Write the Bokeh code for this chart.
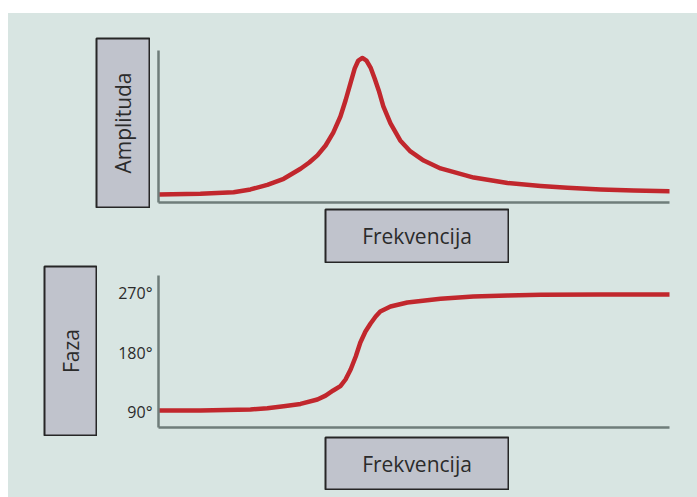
import math
from bokeh.plotting import figure
from bokeh.layouts import column, row
from bokeh.models import Range1d, FixedTicker, Spacer
from bokeh.core.properties import value
from bokeh.embed import file_html
from bokeh.resources import INLINE

# ---------------- data ----------------
freq_amp = [0.00, 0.82, 1.47, 1.80, 2.13, 2.45, 2.78, 2.95, 3.11, 3.27, 3.42, 3.56, 3.66,
            3.76, 3.84, 3.91, 3.99, 4.07, 4.15, 4.23, 4.31, 4.40, 4.54, 4.73, 4.93,
            5.19, 5.52, 6.17, 6.83, 7.48, 8.00, 8.65, 9.30, 10.0]
amplitude = [0.053, 0.057, 0.068, 0.086, 0.116, 0.156, 0.222, 0.263, 0.310, 0.375, 0.460, 0.566, 0.671,
             0.789, 0.882, 0.934, 0.951, 0.934, 0.888, 0.816, 0.737, 0.632, 0.520, 0.408, 0.336,
             0.276, 0.224, 0.164, 0.128, 0.109, 0.097, 0.086, 0.079, 0.074]

freq_phase = [0.00, 0.82, 1.80, 2.13, 2.45, 2.78, 3.11, 3.27, 3.42, 3.56, 3.66, 3.76, 3.86, 3.95,
              4.05, 4.15, 4.25, 4.34, 4.54, 4.87, 5.52, 6.16, 6.83, 7.48, 8.65, 10.0]
phase = [93.0, 93.0, 94.5, 96.5, 99.5, 103.0, 109.7, 115.5, 123.3, 129.8, 139.9, 155.0, 174.7, 195.9,
         212.5, 224.6, 235.2, 242.8, 250.3, 256.4, 262.0, 265.5, 267.0, 268.0, 268.5, 268.5]

phase_ticks = [90, 180, 270]
phase_tick_labels = ["90°", "180°", "270°"]

amp_label = "Amplituda"
phase_label = "Faza"
freq_label = "Frekvencija"

# ---------------- style ----------------
BG = "#d8e5e2"
BOX_FILL = "#c0c3cc"
BOX_LINE = "#262626"
CURVE = "#c1272d"
AXIS = "#6f7d7a"
TXT = "#2b2b2b"
FONT = "Open Sans"


def plot_fig(width, height, left, right, top, bottom, yr):
    p = figure(width=width, height=height, x_range=Range1d(0, 10), y_range=yr,
               output_backend="svg", toolbar_location=None,
               min_border_left=left, min_border_right=right,
               min_border_top=top, min_border_bottom=bottom)
    p.background_fill_color = BG
    p.border_fill_color = BG
    p.outline_line_color = None
    p.xgrid.visible = False
    p.ygrid.visible = False
    for ax in (p.xaxis[0], p.yaxis[0]):
        ax.axis_line_color = AXIS
        ax.axis_line_width = 2.5
        ax.major_tick_line_color = None
        ax.minor_tick_line_color = None
        ax.major_tick_in = 0
        ax.major_tick_out = 0
        ax.minor_tick_in = 0
        ax.minor_tick_out = 0
    p.xaxis[0].ticker = FixedTicker(ticks=[])
    return p


def box_fig(width, height, text, vertical):
    b = figure(width=width, height=height, x_range=Range1d(0, 1), y_range=Range1d(0, 1),
               output_backend="svg", toolbar_location=None,
               min_border_left=1, min_border_right=1, min_border_top=1, min_border_bottom=1,
               x_axis_location=None, y_axis_location=None)
    b.background_fill_color = BOX_FILL
    b.border_fill_color = BG
    b.outline_line_color = BOX_LINE
    b.outline_line_width = 2
    b.outline_line_alpha = 1.0
    b.xgrid.visible = False
    b.ygrid.visible = False
    b.text(x=[0.5], y=[0.5], text=[text], angle=(math.pi / 2 if vertical else 0.0),
           text_align="center", text_baseline="middle",
           text_font=value(FONT), text_font_size="21px", text_color=TXT)
    return b


# ---------------- top: amplitude ----------------
p1 = plot_fig(547, 195, 8, 28, 37, 6, Range1d(0, 1))
p1.yaxis[0].ticker = FixedTicker(ticks=[])
p1.line(freq_amp, amplitude, line_color=CURVE, line_width=4.5, line_join="round",
        line_cap="round")

# ---------------- bottom: phase ----------------
p2 = plot_fig(600, 173, 61, 28, 12, 9, Range1d(67.3, 297.2))
p2.yaxis[0].ticker = FixedTicker(ticks=phase_ticks)
p2.yaxis[0].major_label_overrides = {t: s for t, s in zip(phase_ticks, phase_tick_labels)}
p2.yaxis[0].major_label_text_font = FONT
p2.yaxis[0].major_label_text_font_size = "16px"
p2.yaxis[0].major_label_text_color = TXT
p2.yaxis[0].major_label_standoff = 6
p2.line(freq_phase, phase, line_color=CURVE, line_width=4.5, line_join="round",
        line_cap="round")

amp_box = box_fig(55, 171, amp_label, True)
faza_box = box_fig(54, 171, phase_label, True)
freq_box1 = box_fig(185, 55, freq_label, False)
freq_box2 = box_fig(185, 54, freq_label, False)

top_row = row(Spacer(width=87, height=195),
              column(Spacer(width=55, height=24), amp_box, spacing=0),
              p1, spacing=0)
mid_row = row(Spacer(width=316, height=55), freq_box1, Spacer(width=188, height=55), spacing=0)
bot_row = row(Spacer(width=35, height=173),
              column(Spacer(width=54, height=2), faza_box, spacing=0),
              p2, spacing=0)
last_row = row(Spacer(width=316, height=61),
               column(freq_box2, Spacer(width=185, height=7), spacing=0),
               Spacer(width=188, height=61), spacing=0)

inner = column(top_row, mid_row, bot_row, last_row, spacing=0,
               styles={"background-color": BG})
layout = column(Spacer(width=697, height=13),
                row(Spacer(width=8, height=484), inner, spacing=0),
                spacing=0)

open("out.html", "w").write(file_html(layout, INLINE))
